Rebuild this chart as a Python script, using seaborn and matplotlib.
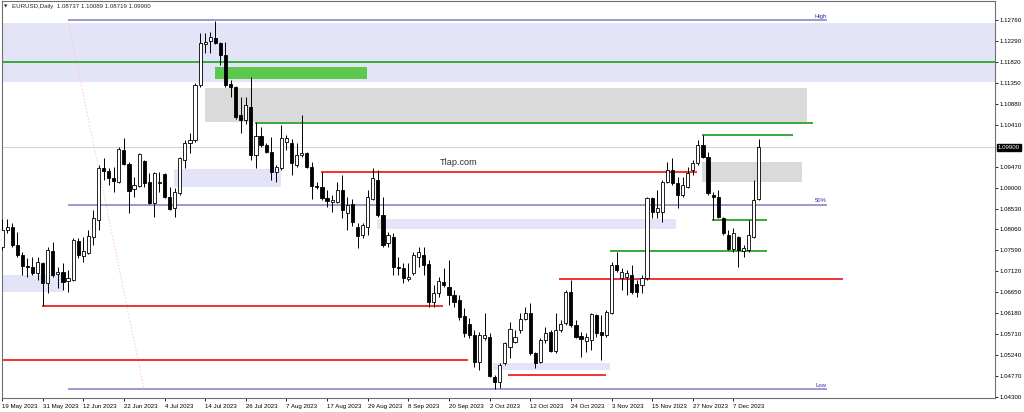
import numpy as np
import pandas as pd
import matplotlib
matplotlib.use("Agg")
import matplotlib.pyplot as plt
import seaborn as sns

# ---------------- data ----------------
opens = [
1.07666, 1.08048, 1.08115, 1.07711, 1.07487, 1.07240, 1.07217, 1.07083, 1.07307, 1.06858,
1.07576, 1.07060, 1.07105, 1.06903, 1.06926, 1.07801, 1.07464, 1.07532, 1.07891, 1.08272,
1.09439, 1.09372, 1.09215, 1.09125, 1.09843, 1.09529, 1.08968, 1.09035, 1.09596, 1.09125,
1.08654, 1.09102, 1.09304, 1.08788, 1.08541, 1.08878, 1.09618, 1.10000, 1.10067, 1.11301,
1.12221, 1.12289, 1.12356, 1.12244, 1.11975, 1.11324, 1.11256, 1.10628, 1.10516, 1.10808,
1.09731, 1.10157, 1.09955, 1.09798, 1.09349, 1.09439, 1.10022, 1.10000, 1.09506, 1.09731,
1.09775, 1.09461, 1.09035, 1.09013, 1.08766, 1.08676, 1.08676, 1.08945, 1.08429, 1.08631,
1.08115, 1.07936, 1.08115, 1.08743, 1.09169, 1.08384, 1.07756, 1.07891, 1.07217, 1.07195,
1.06948, 1.07083, 1.07442, 1.07487, 1.07285, 1.06432, 1.06634, 1.06881, 1.06769, 1.06589,
1.06477, 1.06118, 1.05938, 1.05691, 1.05085, 1.05624, 1.05647, 1.04749, 1.04637, 1.05063,
1.05422, 1.05534, 1.05804, 1.06050, 1.06185, 1.05287, 1.05085, 1.05579, 1.05759, 1.05332,
1.05804, 1.05961, 1.06656, 1.05916, 1.05669, 1.05557, 1.05579, 1.06140, 1.05759, 1.05691,
1.06185, 1.07262, 1.06971, 1.06993, 1.07038, 1.06836, 1.06814, 1.06971, 1.08766, 1.08451,
1.08451, 1.09125, 1.09394, 1.09102, 1.08833, 1.09013, 1.09394, 1.09551, 1.09955, 1.09686,
1.08833, 1.08788, 1.08317, 1.07936, 1.07621, 1.07891, 1.07576, 1.07599, 1.07891, 1.08737]

highs = [
1.08294, 1.08294, 1.08205, 1.08003, 1.07554, 1.07419, 1.07442, 1.07442, 1.07329, 1.07666,
1.07778, 1.07217, 1.07307, 1.07150, 1.07868, 1.07868, 1.07891, 1.08048, 1.08496, 1.09506,
1.09663, 1.09439, 1.09461, 1.09910, 1.10112, 1.09573, 1.09237, 1.09775, 1.09618, 1.09327,
1.09349, 1.09349, 1.09327, 1.09013, 1.08990, 1.09686, 1.10067, 1.10224, 1.11346, 1.12468,
1.12468, 1.12491, 1.12737, 1.12266, 1.12266, 1.11414, 1.11279, 1.11032, 1.11032, 1.11481,
1.10471, 1.10359, 1.10000, 1.10134, 1.09506, 1.10404, 1.10179, 1.10090, 1.10000, 1.10628,
1.09798, 1.09573, 1.09125, 1.09349, 1.08945, 1.08833, 1.09125, 1.09282, 1.08788, 1.08743,
1.08205, 1.08205, 1.08945, 1.09439, 1.09394, 1.08788, 1.08003, 1.07980, 1.07442, 1.07307,
1.07307, 1.07554, 1.07666, 1.07666, 1.07374, 1.06814, 1.06993, 1.07195, 1.07374, 1.06701,
1.06589, 1.06297, 1.06073, 1.05804, 1.05759, 1.06185, 1.05736, 1.04793, 1.05063, 1.05534,
1.05983, 1.05804, 1.06185, 1.06320, 1.06409, 1.05310, 1.05624, 1.05871, 1.05804, 1.06185,
1.06028, 1.06701, 1.06926, 1.06028, 1.05759, 1.05736, 1.06185, 1.06163, 1.06140, 1.06252,
1.07329, 1.07554, 1.07195, 1.07150, 1.07262, 1.06926, 1.07038, 1.08788, 1.08788, 1.08945,
1.09169, 1.09573, 1.09663, 1.09237, 1.09237, 1.09461, 1.09618, 1.10067, 1.10179, 1.09798,
1.08900, 1.08945, 1.08339, 1.08048, 1.08093, 1.07913, 1.07711, 1.08272, 1.09169, 1.10089]

lows = [
1.07599, 1.07980, 1.07666, 1.07442, 1.07038, 1.06993, 1.07038, 1.06926, 1.06342, 1.06634,
1.06993, 1.06746, 1.06701, 1.06656, 1.06903, 1.07419, 1.07329, 1.07509, 1.07711, 1.08048,
1.09169, 1.09057, 1.08900, 1.09102, 1.09506, 1.08429, 1.08788, 1.09013, 1.09013, 1.08631,
1.08339, 1.08900, 1.08766, 1.08496, 1.08339, 1.08833, 1.09439, 1.09775, 1.10022, 1.11256,
1.12019, 1.12019, 1.12221, 1.11750, 1.11256, 1.11032, 1.10538, 1.10224, 1.10426, 1.09618,
1.09439, 1.09910, 1.09775, 1.09169, 1.09125, 1.09394, 1.09843, 1.09282, 1.09461, 1.09686,
1.09439, 1.08743, 1.08968, 1.08721, 1.08564, 1.08451, 1.08654, 1.08317, 1.08048, 1.08137,
1.07644, 1.07868, 1.07936, 1.08721, 1.08339, 1.07666, 1.07666, 1.07038, 1.07038, 1.06858,
1.06903, 1.07038, 1.07217, 1.07038, 1.06320, 1.06320, 1.06544, 1.06769, 1.06365, 1.06320,
1.06028, 1.05647, 1.05624, 1.04973, 1.04906, 1.05579, 1.04749, 1.04480, 1.04502, 1.05018,
1.05175, 1.05512, 1.05736, 1.06028, 1.05242, 1.04950, 1.05063, 1.05512, 1.05310, 1.05287,
1.05759, 1.05916, 1.05871, 1.05624, 1.05197, 1.05310, 1.05355, 1.05647, 1.05130, 1.05647,
1.06163, 1.07105, 1.06701, 1.06589, 1.06612, 1.06544, 1.06634, 1.06926, 1.08317, 1.08317,
1.08227, 1.09102, 1.09057, 1.08541, 1.08788, 1.08990, 1.09282, 1.09506, 1.09663, 1.08833,
1.08272, 1.08317, 1.07936, 1.07599, 1.07554, 1.07217, 1.07442, 1.07554, 1.07868, 1.08719]

closes = [
1.08048, 1.08115, 1.07711, 1.07487, 1.07240, 1.07217, 1.07083, 1.07329, 1.06858, 1.07599,
1.07038, 1.07105, 1.06881, 1.06971, 1.07823, 1.07487, 1.07576, 1.07913, 1.08317, 1.09439,
1.09372, 1.09215, 1.09147, 1.09865, 1.09529, 1.08923, 1.09057, 1.09753, 1.09102, 1.08654,
1.09327, 1.09125, 1.08788, 1.08519, 1.08900, 1.09663, 1.10000, 1.10067, 1.11301, 1.12244,
1.12266, 1.12378, 1.12244, 1.11975, 1.11301, 1.11256, 1.10583, 1.10516, 1.10853, 1.09731,
1.10157, 1.09955, 1.09798, 1.09349, 1.09461, 1.10112, 1.10112, 1.09551, 1.09731, 1.09775,
1.09461, 1.09035, 1.09013, 1.08766, 1.08698, 1.08721, 1.08945, 1.08496, 1.08609, 1.08227,
1.07913, 1.08160, 1.08788, 1.09215, 1.08384, 1.07711, 1.07936, 1.07217, 1.07195, 1.06971,
1.06993, 1.07487, 1.07554, 1.07262, 1.06432, 1.06634, 1.06903, 1.06814, 1.06589, 1.06432,
1.06095, 1.05736, 1.05691, 1.05085, 1.05691, 1.05691, 1.04771, 1.04637, 1.05018, 1.05512,
1.05826, 1.05647, 1.06050, 1.06185, 1.05287, 1.05063, 1.05579, 1.05736, 1.05332, 1.05804,
1.05938, 1.06656, 1.05916, 1.05647, 1.05602, 1.05647, 1.06163, 1.05736, 1.05691, 1.06207,
1.07262, 1.07150, 1.07105, 1.07083, 1.06656, 1.06656, 1.06971, 1.08766, 1.08451, 1.08541,
1.09125, 1.09394, 1.09102, 1.08833, 1.09057, 1.09327, 1.09551, 1.09955, 1.09686, 1.08878,
1.08788, 1.08339, 1.07980, 1.07621, 1.07980, 1.07599, 1.07644, 1.07936, 1.08721, 1.09900]

date_tick_bars = [0, 8, 16, 24, 32, 40, 48, 56, 64, 72, 80, 88, 96, 104, 112, 120, 128, 136, 144]
date_tick_labels = ["19 May 2023", "31 May 2023", "12 Jun 2023", "22 Jun 2023", "4 Jul 2023",
                    "14 Jul 2023", "26 Jul 2023", "7 Aug 2023", "17 Aug 2023", "29 Aug 2023",
                    "8 Sep 2023", "20 Sep 2023", "2 Oct 2023", "12 Oct 2023", "24 Oct 2023",
                    "3 Nov 2023", "15 Nov 2023", "27 Nov 2023", "7 Dec 2023"]
price_ticks = [1.12760, 1.12290, 1.11820, 1.11350, 1.10880, 1.10410, 1.09470, 1.09000,
               1.08530, 1.08060, 1.07590, 1.07120, 1.06650, 1.06180, 1.05710, 1.05240,
               1.04770, 1.04300]
last_price = 1.09900
header = "EURUSD,Daily  1.08737 1.10089 1.08719 1.09900"
watermark = ("Tlap.com", 90.0, 1.09573)

# annotation objects: (bar_from, bar_to, price_low, price_high)
lavender_zones = [(0, 195.5, 1.11375, 1.12699), (33.9, 54.9, 1.09013, 1.09416),
                  (73.8, 132.7, 1.08070, 1.08294), (0, 12.0, 1.06656, 1.07038),
                  (96.7, 119.7, 1.04906, 1.05063)]
gray_zones = [(40.0, 158.5, 1.10471, 1.11234), (137.8, 157.5, 1.09125, 1.09573)]
green_zone = [(41.9, 71.85, 1.11436, 1.11705)]
# (bar_from, bar_to, price)
green_levels = [(0, 195.5, 1.11820), (49.8, 159.6, 1.10460), (137.8, 155.7, 1.10186),
                (139.8, 150.7, 1.08272), (119.7, 150.7, 1.07576)]
red_levels = [(62.8, 136.8, 1.09342), (109.6, 165.6, 1.06948), (7.9, 86.8, 1.06342),
              (0, 91.7, 1.05130), (99.6, 118.9, 1.04784)]
fibo_levels = [("High", 1.12760), ("50%", 1.08620), ("Low", 1.04480)]
fibo_span = (13.0, 162.4)
fibo_diag = ([13.0, 27.95], [1.12760, 1.04480])

# ---------------- figure ----------------
sns.set_style("white")
plt.rcParams["font.family"] = ["Liberation Sans", "DejaVu Sans"]

df = pd.DataFrame({"open": opens, "high": highs, "low": lows, "close": closes})
df["bar"] = np.arange(len(df))

W, H = 1024, 412
fig = plt.figure(figsize=(W / 100, H / 100), dpi=100)
ax = fig.add_axes([2 / W, 1 - 398 / H, 993 / W, (398 - 1.3) / H])
ax.set_xlim(0, 195.5)
ax.set_ylim(1.04278, 1.13180)

for x0, x1, y0, y1 in lavender_zones:
    ax.fill_between([x0, x1], y0, y1, color="#e4e4f8", lw=0, zorder=1)
for x0, x1, y0, y1 in gray_zones:
    ax.fill_between([x0, x1], y0, y1, color="#dadada", lw=0, zorder=1)
for x0, x1, y0, y1 in green_zone:
    ax.fill_between([x0, x1], y0, y1, color="#5cc84c", lw=0, zorder=1)

ax.axhline(last_price, color="#d4d4d4", lw=0.8, zorder=1.5)

for x0, x1, p in green_levels:
    ax.hlines(p, x0, x1, color="#3aa93a", lw=1.4, zorder=2)
for x0, x1, p in red_levels:
    ax.hlines(p, x0, x1, color="#f23232", lw=1.4, zorder=2)
for name, p in fibo_levels:
    ax.hlines(p, fibo_span[0], fibo_span[1], color="#7f7fc6", lw=1.1, zorder=2)
    ax.text(fibo_span[1], p + 0.0003, name, ha="right", va="bottom", fontsize=4.3,
            color="#2c2ca0", zorder=6)
ax.plot(fibo_diag[0], fibo_diag[1], color="#ffc0cc", lw=0.6, ls=(0, (2, 2)), zorder=1.6)

# candles
up = df[df["close"] >= df["open"]]
dn = df[df["close"] < df["open"]]
ax.vlines(df["bar"], df["low"], df["high"], color="black", lw=0.7, zorder=3)
ax.bar(up["bar"], np.maximum(up["close"] - up["open"], 0.00004), bottom=up["open"],
       width=0.62, color="white", edgecolor="black", lw=0.6, zorder=4)
ax.bar(dn["bar"], np.maximum(dn["open"] - dn["close"], 0.00004), bottom=dn["close"],
       width=0.62, color="black", edgecolor="black", lw=0.6, zorder=4)

ax.text(watermark[1], watermark[2], watermark[0], ha="center", va="center",
        fontsize=6.6, color="#333333", zorder=6)

# axes styling
ax.yaxis.tick_right()
ax.set_yticks(price_ticks)
ax.set_yticklabels([f"{v:.5f}" for v in price_ticks])
ax.set_xticks(date_tick_bars)
ax.set_xticklabels(date_tick_labels, ha="left")
ax.tick_params(axis="y", which="both", right=True, left=False, length=2, width=0.6,
               pad=1.2, labelsize=4.4, colors="black")
ax.tick_params(axis="x", which="both", bottom=True, length=2, width=0.6, pad=2.0,
               labelsize=4.4, colors="black")
for s in ax.spines.values():
    s.set_color("#707070")
    s.set_linewidth(0.8)
ax.grid(False)

ax.annotate(f"{last_price:.5f}", xy=(1.0, last_price), xycoords=("axes fraction", "data"),
            xytext=(2.2, 0), textcoords="offset points", ha="left", va="center",
            fontsize=4.4, color="white", annotation_clip=False,
            bbox=dict(boxstyle="square,pad=0.2", fc="black", ec="black"))

fig.text(4 / W, 1 - 6.6 / H, "\u25BC", fontsize=3.2, va="center", ha="left",
         family=["DejaVu Sans"])
fig.text(12 / W, 1 - 6.6 / H, header, fontsize=4.4, va="center", ha="left")

fig.savefig("out.png", dpi=100)
